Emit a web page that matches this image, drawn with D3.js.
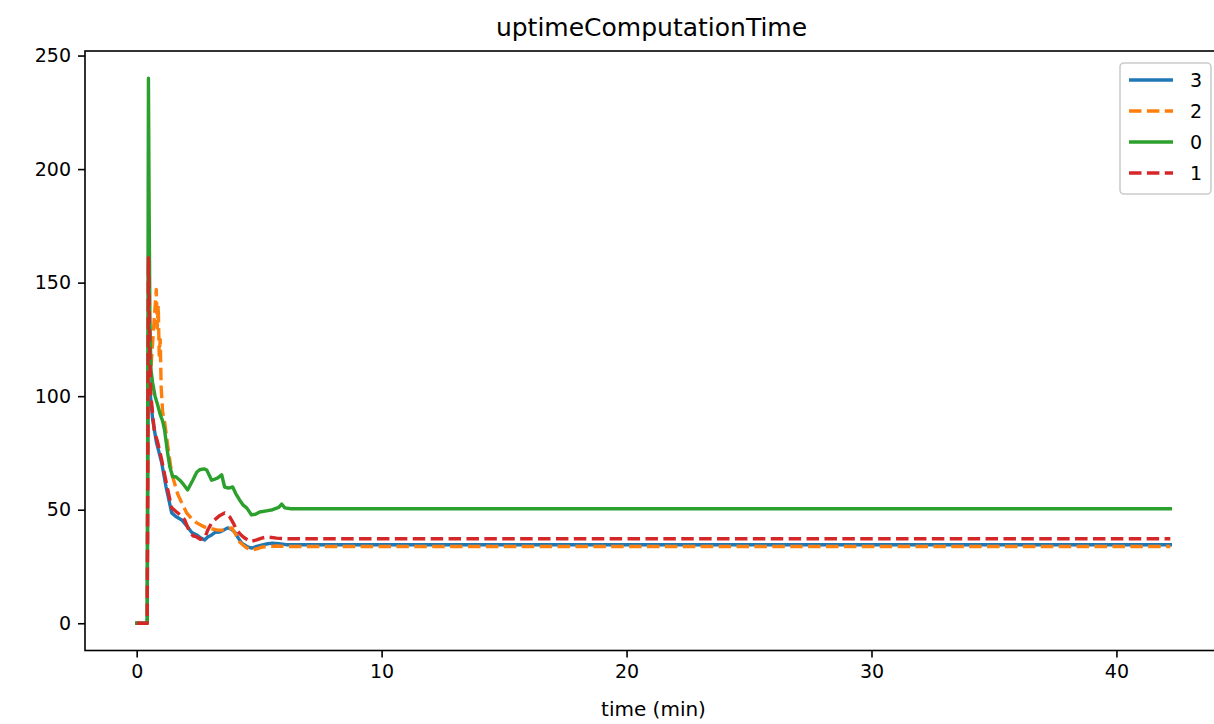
<!DOCTYPE html>
<html><head><meta charset="utf-8">
<script src="https://cdn.jsdelivr.net/npm/d3@7"></script>
<style>
html,body{margin:0;padding:0;background:#fff;}
svg{display:block;font-family:"DejaVu Sans",sans-serif;}
</style></head>
<body>
<script>
// ---- data ----
const seriesNames = ["3", "2", "0", "1"];
const seriesColors = ["#1f77b4", "#ff7f0e", "#2ca02c", "#d62728"];
const seriesDashed = [false, true, false, true];

const s3_t = [0,0.43,0.47,0.52,0.58,0.65,0.8,1.02,1.2,1.43,1.6,1.84,2.08,2.25,2.45,2.62,2.78,2.9,3.06,3.2,3.39,3.55,3.71,3.85,4.0,4.15,4.29,4.5,4.69,4.9,5.14,5.35,5.55,5.8,6.1,42.2];
const s3_v = [0,0,112,105,98,90,80,70.7,60,48.6,47,45.5,42.4,40,38.9,37.5,36.7,38,38.9,40,40.2,41,42,41.5,40.2,37.5,35.3,33.8,33.1,33.8,34.5,35,35.3,35,34.6,34.6];

const s2_t = [0,0.43,0.47,0.52,0.58,0.66,0.8,0.84,0.88,0.92,0.96,1.0,1.06,1.15,1.27,1.43,1.67,1.84,2.04,2.25,2.45,2.65,2.86,3.1,3.31,3.59,3.75,3.88,4.05,4.2,4.45,4.69,4.9,5.14,5.4,5.71,6.1,42.2];
const s2_v = [0,0,118,128,112,125,147,130,140,118,125,104,93,88,78,66,57,53,48.6,46,44.2,43,42,41.5,41,41,41.5,42,39,35.8,33.5,32.2,32.8,33.6,33.8,34,33.8,33.8];

const s0_t = [0,0.43,0.48,0.51,0.54,0.58,0.65,0.75,0.86,0.96,1.06,1.14,1.25,1.35,1.47,1.6,1.76,1.92,2.08,2.29,2.45,2.57,2.75,2.86,3.06,3.2,3.31,3.47,3.59,3.75,3.92,4.05,4.2,4.35,4.49,4.69,4.85,5.02,5.3,5.55,5.8,5.92,6.05,6.3,42.2];
const s0_v = [0,0,240,180,135,112,106,100,96,92,89,85,76,69,64.5,64.5,63,61,58.7,63,66.5,67.6,68,67.5,63,63.5,64,65.4,60,59.5,60,57,54.3,52,50.8,47.7,48,49,49.5,50,51,52.5,50.8,50.4,50.4];

const s1_t = [0,0.43,0.48,0.51,0.54,0.58,0.62,0.67,0.73,0.85,1.02,1.15,1.27,1.43,1.63,1.8,1.96,2.16,2.3,2.45,2.6,2.78,2.9,3.05,3.18,3.4,3.59,3.8,3.95,4.08,4.25,4.41,4.65,4.9,5.1,5.31,5.71,6.1,42.2];
const s1_v = [0,0,161,140,115,100,96,90,84,80,72,65,58.7,50.8,49,47.5,45.5,40.2,38.5,38,37,37.5,41,44,45.5,47.5,48.6,46.8,44,41,39,37.5,36,36.7,37.5,38,37.5,37.2,37.2];

const xTicks = [0, 10, 20, 30, 40];
const yTicks = [0, 50, 100, 150, 200, 250];
const titleText = "uptimeComputationTime";
const xLabelText = "time (min)";

// ---- build ----
const series = [
  {t: s3_t, v: s3_v}, {t: s2_t, v: s2_v}, {t: s0_t, v: s0_v}, {t: s1_t, v: s1_v}
].map((s, i) => ({
  name: seriesNames[i], color: seriesColors[i], dashed: seriesDashed[i],
  pts: s.t.map((t, j) => [t, s.v[j]])
}));

const W = 1214, H = 724;
const L = 85, R = 1222, T = 51, B = 650.5;

const allT = series.flatMap(s => s.pts.map(p => p[0]));
const allV = series.flatMap(s => s.pts.map(p => p[1]));
const [tMin, tMax] = d3.extent(allT), [vMin, vMax] = d3.extent(allV);
const tPad = (tMax - tMin) * 0.05, vPad = (vMax - vMin) * 0.05;

const x = d3.scaleLinear().domain([tMin - tPad, tMax + tPad]).range([L, R]);
const y = d3.scaleLinear().domain([vMin - vPad, vMax + vPad]).range([B, T]);

const svg = d3.select("body").append("svg").attr("width", W).attr("height", H);

svg.append("clipPath").attr("id", "c").append("rect")
  .attr("x", L).attr("y", T).attr("width", R - L).attr("height", B - T);

const LW = 3.4, DASH = "12.5,5.4";
const line = d3.line().x(d => x(d[0])).y(d => y(d[1]));
const g = svg.append("g").attr("clip-path", "url(#c)");
series.forEach(s => {
  g.append("path").attr("d", line(s.pts)).attr("fill", "none")
    .attr("stroke", s.color).attr("stroke-width", LW)
    .attr("stroke-linejoin", "round").attr("stroke-linecap", s.dashed ? "butt" : "square")
    .attr("stroke-dasharray", s.dashed ? DASH : null);
});

// axes
const fs = 19;
const xAxis = svg.append("g").attr("transform", `translate(0,${B})`)
  .call(d3.axisBottom(x).tickValues(xTicks).tickSize(7).tickPadding(7).tickFormat(d3.format("d")));
const yAxis = svg.append("g").attr("transform", `translate(${L},0)`)
  .call(d3.axisLeft(y).tickValues(yTicks).tickSize(7).tickPadding(7).tickFormat(d3.format("d")));
[xAxis, yAxis].forEach(a => {
  a.select(".domain").remove();
  a.selectAll(".tick line").attr("stroke", "#000").attr("stroke-width", 1.6);
  a.selectAll(".tick text").attr("font-size", fs).attr("fill", "#000")
    .attr("font-family", "DejaVu Sans");
});

// spines
svg.append("rect").attr("x", L).attr("y", T).attr("width", R - L).attr("height", B - T)
  .attr("fill", "none").attr("stroke", "#000").attr("stroke-width", 1.6);

// title & label
svg.append("text").attr("x", (L + R) / 2 - 2).attr("y", 36).attr("text-anchor", "middle")
  .attr("font-size", 25).attr("fill", "#000").text(titleText);
svg.append("text").attr("x", (L + R) / 2).attr("y", 716).attr("text-anchor", "middle")
  .attr("font-size", 20).attr("fill", "#000").text(xLabelText);

// legend
const lg = svg.append("g");
lg.append("rect").attr("x", 1120).attr("y", 63).attr("width", 91).attr("height", 131).attr("rx", 4)
  .attr("fill", "#fff").attr("fill-opacity", 0.8).attr("stroke", "#cccccc").attr("stroke-width", 1.6);
series.forEach((s, i) => {
  const yy = 80 + i * 31;
  lg.append("line").attr("x1", 1129).attr("x2", 1173).attr("y1", yy).attr("y2", yy)
    .attr("stroke", s.color).attr("stroke-width", LW)
    .attr("stroke-dasharray", s.dashed ? DASH : null);
  lg.append("text").attr("x", 1190).attr("y", yy).attr("dy", "0.36em")
    .attr("font-size", fs).attr("fill", "#000").text(s.name);
});
</script>
</body></html>
